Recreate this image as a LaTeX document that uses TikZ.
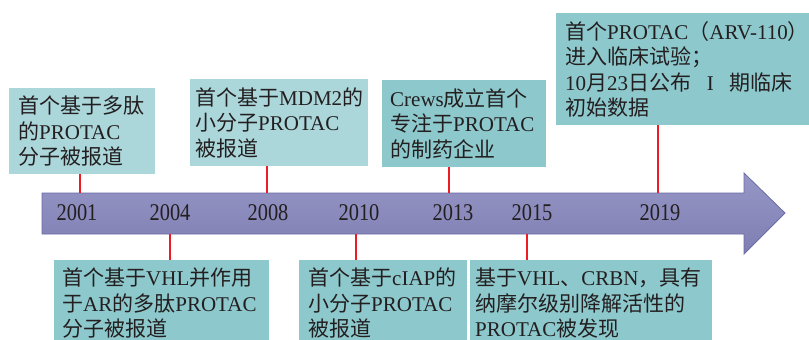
\documentclass[tikz,border=0pt]{standalone}
\usepackage{fontspec}
\usepackage{graphicx}
\setmainfont{Liberation Serif}
\newfontfamily\cjkfont{Noto Sans CJK SC}
\newcommand\zh[1]{{\cjkfont #1}}
\newcommand\yr[1]{\scalebox{0.85}[1]{#1}}
\definecolor{boxlight}{RGB}{171,215,219}
\definecolor{boxdark}{RGB}{141,200,204}
\definecolor{arrtop}{RGB}{150,150,198}
\definecolor{arrbot}{RGB}{126,126,178}
\definecolor{arrline}{RGB}{107,107,168}
\definecolor{tlred}{RGB}{237,28,36}
\definecolor{txt}{RGB}{35,31,32}
\begin{document}
\begin{tikzpicture}[x=1pt,y=-1pt,
  evbox/.style={anchor=north west, inner ysep=0pt, align=left, text=txt,
    font=\fontsize{21}{25.5}\selectfont},
  yearlbl/.style={text=txt, font=\fontsize{24}{26}\selectfont, inner sep=0pt},
  redline/.style={draw=tlred, line width=1.8pt}]
\useasboundingbox (0,0) rectangle (809,340);
\clip (0,0) rectangle (809,340);

% timeline arrow
\path[top color=arrtop, bottom color=arrbot, draw=arrline, line width=0.8pt]
  (42,193) -- (744,193) -- (744,173) -- (785,213) -- (744,254) -- (744,234) -- (42,234) -- cycle;

% years
\node[yearlbl] (y2001) at (77,213) {\yr{2001}};
\node[yearlbl] (y2004) at (170,213) {\yr{2004}};
\node[yearlbl] (y2008) at (268,213) {\yr{2008}};
\node[yearlbl] (y2010) at (359,213) {\yr{2010}};
\node[yearlbl] (y2013) at (453,213) {\yr{2013}};
\node[yearlbl] (y2015) at (532,213) {\yr{2015}};
\node[yearlbl] (y2019) at (660,213) {\yr{2019}};

% event boxes (upper)
\node[evbox, fill=boxlight, minimum height=86, inner xsep=9, text width=128] (b1) at (9,88)
  {\zh{首个基于多肽}\\\zh{的}PROTAC\\\zh{分子被报道}};
\node[evbox, fill=boxlight, minimum height=87, inner xsep=5, text width=168] (b2) at (190,79)
  {\zh{首个基于}MDM2\zh{的}\\\zh{小分子}PROTAC\\\zh{被报道}};
\node[evbox, fill=boxdark, minimum height=87, inner xsep=8, text width=148] (b3) at (382,80)
  {Crews\zh{成立首个}\\\zh{专注于}PROTAC\\\zh{的制药企业}};
\node[evbox, fill=boxdark, minimum height=112, inner xsep=9, text width=242] (b4) at (556,13)
  {\mbox{\zh{首个}PROTAC\zh{（}ARV-110\zh{）}}\\\zh{进入临床试验；}\\\mbox{10\zh{月}23\zh{日公布}\hspace{0.75em}I\hspace{0.75em}\zh{期临床}}\\\zh{初始数据}};

% event boxes (lower)
\node[evbox, fill=boxdark, minimum height=86, inner xsep=8, text width=199] (b5) at (54,260)
  {\zh{首个基于}VHL\zh{并作用}\\\mbox{\zh{于}AR\zh{的多肽}PROTAC}\\\zh{分子被报道}};
\node[evbox, fill=boxdark, minimum height=86, inner xsep=9, text width=150] (b6) at (299,260)
  {\zh{首个基于}cIAP\zh{的}\\\zh{小分子}PROTAC\\\zh{被报道}};
\node[evbox, fill=boxdark, minimum height=86, inner xsep=5, text width=232] (b7) at (470,260)
  {\mbox{\zh{基于}VHL\zh{、}CRBN\zh{，具有}}\\\zh{纳摩尔级别降解活性的}\\PROTAC\zh{被发现}};

% connector points on the arrow
\coordinate (a2001) at (80,193);
\coordinate (a2008) at (267,193);
\coordinate (a2013) at (449,193);
\coordinate (a2019) at (658,193);
\coordinate (a2004) at (170,234);
\coordinate (a2010) at (356,234);
\coordinate (a2015) at (527,234);

\draw[redline] (b1.south -| a2001) -- (a2001);
\draw[redline] (b2.south -| a2008) -- (a2008);
\draw[redline] (b3.south -| a2013) -- (a2013);
\draw[redline] (b4.south -| a2019) -- (a2019);
\draw[redline] (a2004) -- (b5.north -| a2004);
\draw[redline] (a2010) -- (b6.north -| a2010);
\draw[redline] (a2015) -- (b7.north -| a2015);
\end{tikzpicture}
\end{document}
